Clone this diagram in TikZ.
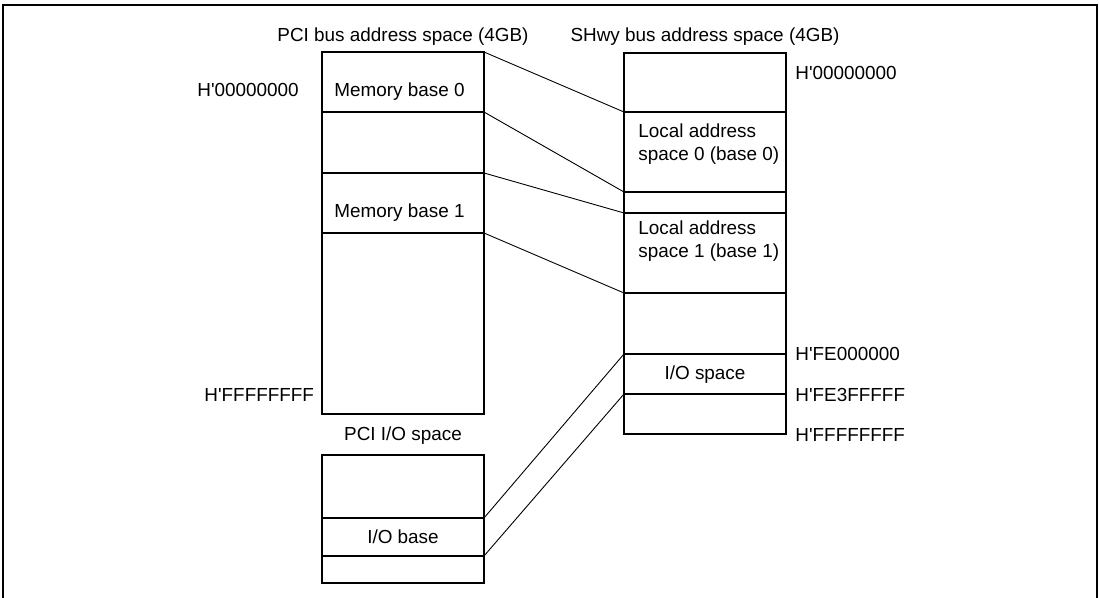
\documentclass[tikz,border=0pt]{standalone}
\usepackage{fontspec}
\setmainfont{Liberation Sans}
\begin{document}
\begin{tikzpicture}[x=0.5pt, y=-0.5pt, font=\fontsize{9.45}{11.5}\selectfont, line join=miter, line cap=rect]
			\useasboundingbox (0,0) rectangle (1100,598);
			\tikzset{box/.style={line width=1.35pt}, link/.style={line width=0.45pt}, lbl/.style={inner sep=0pt}}
			\newcommand{\hx}[1]{H\textquotesingle #1}
			% PCI bus address space
			\coordinate (P0) at (322,52);
			\coordinate (P1) at (322,112);
			\coordinate (P2) at (322,173);
			\coordinate (P3) at (322,233);
			\coordinate (P4) at (484,414);
			% PCI I/O space
			\coordinate (Q0) at (322,455);
			\coordinate (Q1) at (322,518);
			\coordinate (Q2) at (322,556);
			\coordinate (Q3) at (484,583);
			% SHwy bus address space
			\coordinate (S0) at (624,53);
			\coordinate (S1) at (624,112);
			\coordinate (S2) at (624,192);
			\coordinate (S3) at (624,213);
			\coordinate (S4) at (624,293);
			\coordinate (S5) at (624,354);
			\coordinate (S6) at (624,394);
			\coordinate (S7) at (786,434);
			
			\draw[line width=1pt] (3,598) -- (3,5) -- (1097,5) -- (1097,598);
			
			\draw[box] (P0) rectangle (P4);
			\draw[box] (P1) -- (P1 -| P4);
			\draw[box] (P2) -- (P2 -| P4);
			\draw[box] (P3) -- (P3 -| P4);
			
			\draw[box] (Q0) rectangle (Q3);
			\draw[box] (Q1) -- (Q1 -| Q3);
			\draw[box] (Q2) -- (Q2 -| Q3);
			
			\draw[box] (S0) rectangle (S7);
			\foreach \s in {S1,S2,S3,S4,S5,S6}
				\draw[box] (\s) -- (\s -| S7);
			
			% Ký hiệu ánh xạ
			\draw[link] (P0 -| P4) -- (S1);
			\draw[link] (P1 -| P4) -- (S2);
			\draw[link] (P2 -| P4) -- (S3);
			\draw[link] (P3 -| P4) -- (S4);
			\draw[link] (Q1 -| Q3) -- (S5);
			\draw[link] (Q2 -| Q3) -- (S6);
			
			\node[lbl] (pcititle) at (403,37) {PCI bus address space (4GB)};
			\node[lbl] (shtitle) at (705,37) {SHwy bus address space (4GB)};
			\node[lbl, anchor=west] (ptop) at (197,90) {\hx{00000000}};
			\node[lbl, anchor=west] (pbot) at (204,395) {\hx{FFFFFFFF}};
			\node[lbl, anchor=west] (mb0) at (334,92) {Memory base 0};
			\node[lbl, anchor=west] (mb1) at (334,213) {Memory base 1};
			\node[lbl] (iotitle) at (403,436) {PCI I/O space};
			\node[lbl] (iob) at (403,537) {I/O base};
			\node[lbl, anchor=west, align=left] (las0) at (638,144) {Local address\\space 0 (base 0)};
			\node[lbl, anchor=west, align=left] (las1) at (638,241) {Local address\\space 1 (base 1)};
			\node[lbl] (ios) at (705,375) {I/O space};
			\node[lbl, anchor=west] (stop) at (795,73) {\hx{00000000}};
			\node[lbl, anchor=west] (sfe0) at (795,354) {\hx{FE000000}};
			\node[lbl, anchor=west] (sfe3) at (795,395) {\hx{FE3FFFFF}};
			\node[lbl, anchor=west] (sbot) at (795,435) {\hx{FFFFFFFF}};
		\end{tikzpicture}
\end{document}
